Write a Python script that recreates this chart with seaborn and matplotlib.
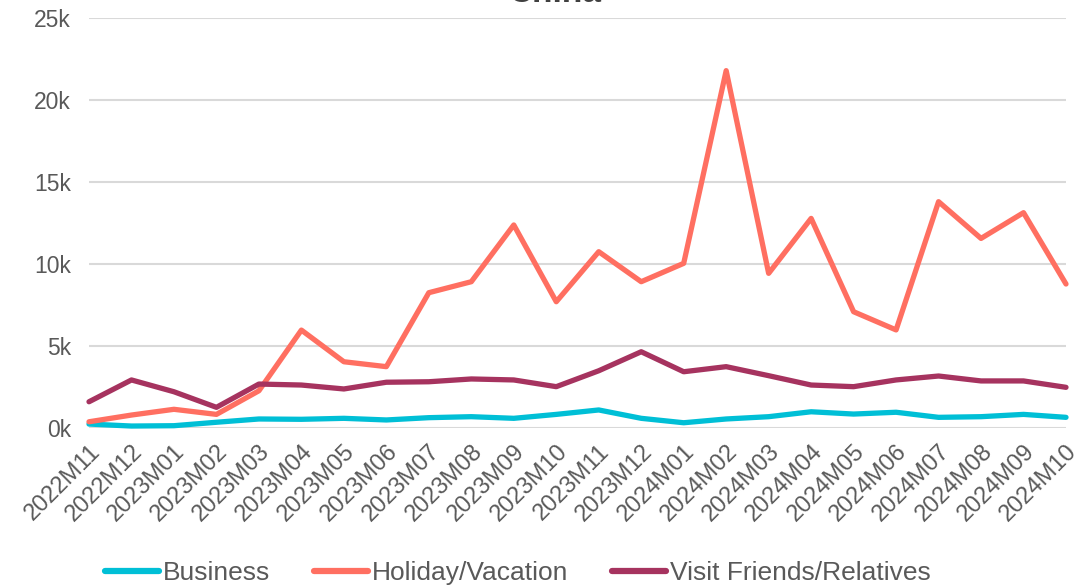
import pandas as pd
import numpy as np
import seaborn as sns
import matplotlib.pyplot as plt
from matplotlib.ticker import FuncFormatter

# data (visitors)
months = ['2022M11', '2022M12', '2023M01', '2023M02', '2023M03', '2023M04',
          '2023M05', '2023M06', '2023M07', '2023M08', '2023M09', '2023M10',
          '2023M11', '2023M12', '2024M01', '2024M02', '2024M03', '2024M04',
          '2024M05', '2024M06', '2024M07', '2024M08', '2024M09', '2024M10']
business = [240, 120, 140, 350, 550, 530, 590, 490, 630, 690, 590, 830,
            1100, 590, 320, 550, 690, 990, 850, 960, 650, 690, 830, 650]
holiday = [380, 790, 1140, 830, 2270, 5970, 4040, 3740, 8250, 8920, 12380, 7700,
           10750, 8920, 10040, 21790, 9430, 12780, 7090, 5980, 13800, 11560, 13130, 8780]
vfr = [1600, 2930, 2210, 1260, 2680, 2620, 2380, 2790, 2820, 2990, 2930, 2520,
       3490, 4650, 3430, 3740, 3190, 2620, 2520, 2930, 3170, 2870, 2870, 2480]

series_names = ['Business', 'Holiday/Vacation', 'Visit Friends/Relatives']
colors = ['#00bfd6', '#ff6f61', '#a6335f']

df = pd.DataFrame({
    'Month': months * 3,
    'Visitors': business + holiday + vfr,
    'Purpose': [n for n in series_names for _ in months],
})
df['idx'] = df['Month'].map({m: i for i, m in enumerate(months)})

sns.set_theme(style="white")
plt.rcParams['font.family'] = ['Liberation Sans', 'DejaVu Sans']
text_grey = '#595959'

fig = plt.figure(figsize=(10.84, 5.87), dpi=100)
ax = fig.add_axes([89 / 1084, 1 - 428 / 587, 977 / 1084, 410 / 587])

sns.lineplot(data=df, x='idx', y='Visitors', hue='Purpose', hue_order=series_names,
             palette=colors, linewidth=3.8, ax=ax, legend=False,
             solid_capstyle='round', solid_joinstyle='round')
for ln in ax.lines:
    ln.set_clip_on(False)

ax.set_xlim(0, len(months) - 1)
ax.set_ylim(0, 25000)
ax.set_yticks(np.arange(0, 25001, 5000))
ax.yaxis.set_major_formatter(FuncFormatter(lambda v, p: f'{int(v / 1000)}k'))
ax.set_xticks(range(len(months)))
ax.set_xticklabels(months, rotation=45, ha='right', rotation_mode='anchor')
ax.tick_params(axis='both', length=0, labelcolor=text_grey)
ax.tick_params(axis='y', pad=13, labelsize=16.5)
ax.tick_params(axis='x', pad=9, labelsize=17)
ax.set_xlabel('')
ax.set_ylabel('')
ax.grid(axis='y', color='#d9d9d9', linewidth=1.5)
ax.set_axisbelow(True)
for s in ax.spines.values():
    s.set_visible(False)

# title sits mostly above the figure edge, as in the source
fig.text(555 / 1084, 1 - 2 / 587, 'China', ha='center', va='baseline',
         fontsize=24, fontweight='bold', color='#404040')

handles = [plt.Line2D([], [], color=c, linewidth=4.5, solid_capstyle='round') for c in colors]
fig.legend(handles, series_names, loc='center left', bbox_to_anchor=(92 / 1084, 14 / 587),
           ncol=3, frameon=False, fontsize=19, labelcolor=text_grey, borderpad=0,
           handlelength=2.05, handletextpad=0.15, columnspacing=1.65)

plt.savefig('out.png', dpi=100)
plt.close()
